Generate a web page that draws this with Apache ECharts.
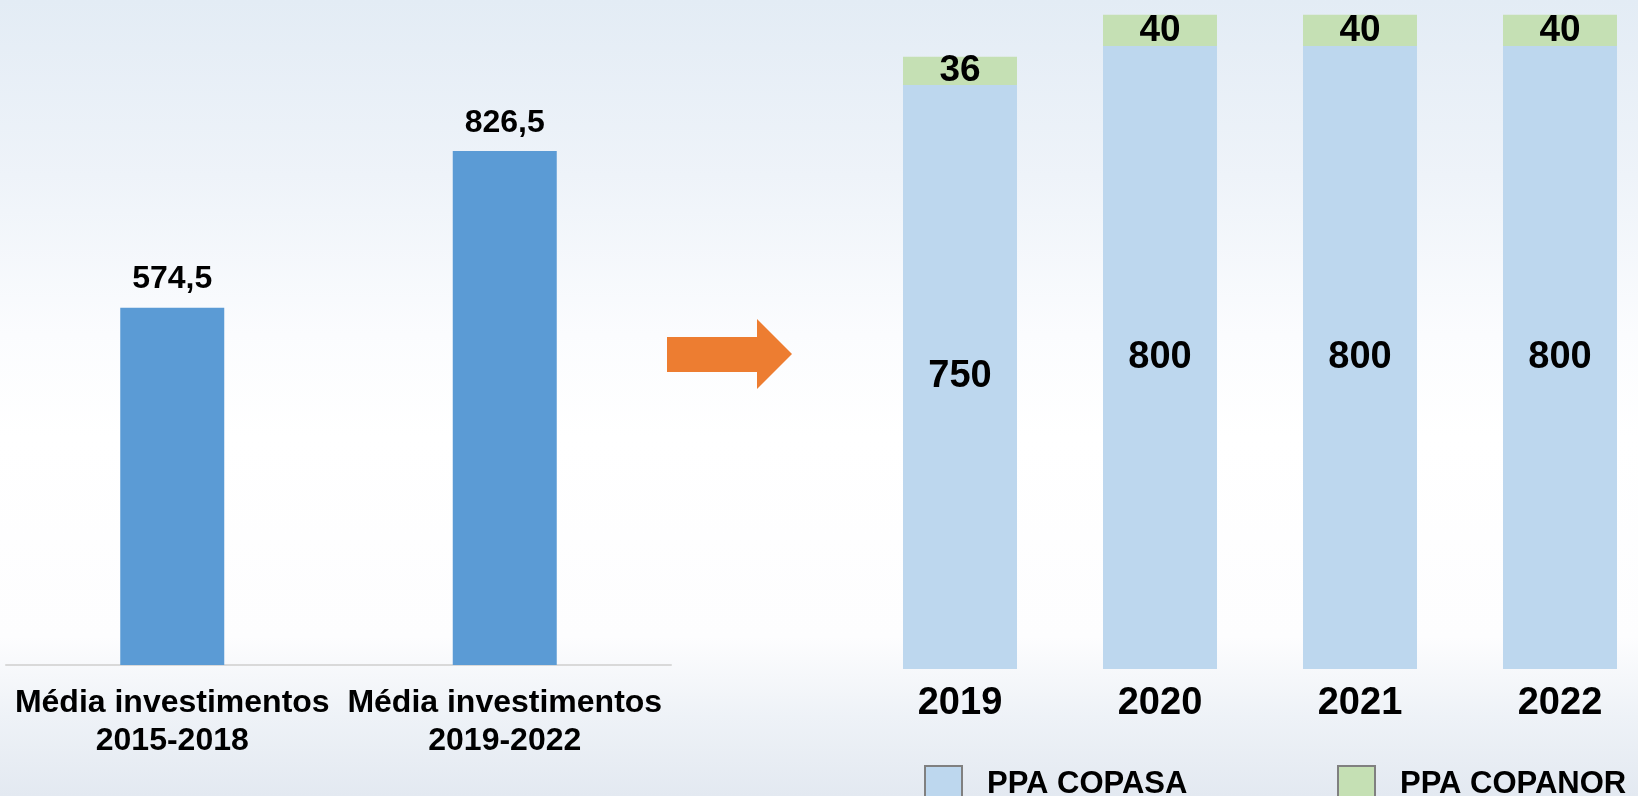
<html>
<head>
    <meta charset="utf-8">
    <script src="https://cdn.jsdelivr.net/npm/echarts@6/dist/echarts.min.js"></script>
    <title>investimentos</title>
    <style>
        html, body { margin: 0; padding: 0; width: 100%; height: 100%; }
        body {
            background: linear-gradient(to bottom, #e3ecf5 0%, #eef3f9 22%, #fbfcfe 42%, #ffffff 55%, #fdfdfe 80%, #eef2f7 90%, #e3e9f1 100%);
        }
    </style>
</head>
<body>
    <div id="main" style="width: 1638px; height: 796px;"></div>
    <script>
        // left chart: averages
        const periodCats = ['Média investimentos\n2015-2018', 'Média investimentos\n2019-2022'];
        const periodAvg = [574.5, 826.5];

        // right chart: PPA per year
        const years = ['2019', '2020', '2021', '2022'];
        const ppaCopasa = [750, 800, 800, 800];
        const ppaCopanor = [36, 40, 40, 40];

        const font = "'Liberation Sans', Arial, sans-serif";
        const myChart = echarts.init(document.getElementById('main'));

        const legendBase = (name, left) => ({
            data: [name],
            left: left,
            top: 760,
            icon: 'rect',
            itemWidth: 37,
            itemHeight: 37,
            itemStyle: { borderColor: '#808080', borderWidth: 2 },
            textStyle: {
                fontFamily: font, fontWeight: 'bold', fontSize: 31, color: '#000',
                padding: [0, 0, 0, 20]
            }
        });

        const option = {
            backgroundColor: 'transparent',
            animation: false,
            textStyle: { fontFamily: font },
            legend: [legendBase('PPA COPASA', 919), legendBase('PPA COPANOR', 1332)],
            grid: [
                { left: 6, width: 665, top: 43, bottom: 131, outerBoundsMode: 'none' },
                { left: 860, width: 800, top: 7, bottom: 127, outerBoundsMode: 'none' }
            ],
            xAxis: [
                {
                    gridIndex: 0, type: 'category', data: periodCats,
                    axisLine: { lineStyle: { color: '#d9d9d9', width: 2 } },
                    axisTick: { show: false },
                    axisLabel: {
                        color: '#000', fontWeight: 'bold', fontSize: 32, lineHeight: 38,
                        margin: 19, fontFamily: font, interval: 0
                    }
                },
                {
                    gridIndex: 1, type: 'category', data: years,
                    axisLine: { show: false },
                    axisTick: { show: false },
                    axisLabel: {
                        color: '#000', fontWeight: 'bold', fontSize: 38, lineHeight: 38,
                        margin: 16, fontFamily: font, interval: 0
                    }
                }
            ],
            yAxis: [
                { gridIndex: 0, type: 'value', min: 0, max: 1000, show: false, splitLine: { show: false } },
                { gridIndex: 1, type: 'value', min: 0, max: 850, show: false, splitLine: { show: false } }
            ],
            series: [
                {
                    name: 'Média', type: 'bar', xAxisIndex: 0, yAxisIndex: 0,
                    data: periodAvg, barWidth: 104,
                    itemStyle: { color: '#5b9bd5' },
                    label: {
                        show: true, position: 'top', distance: 12,
                        color: '#000', fontWeight: 'bold', fontSize: 32, fontFamily: font,
                        formatter: (p) => String(p.value).replace('.', ',')
                    }
                },
                {
                    name: 'PPA COPASA', type: 'bar', xAxisIndex: 1, yAxisIndex: 1,
                    stack: 'ppa', data: ppaCopasa, barWidth: 114,
                    itemStyle: { color: '#bdd7ee' },
                    label: {
                        show: true, position: 'inside',
                        color: '#000', fontWeight: 'bold', fontSize: 38, fontFamily: font
                    }
                },
                {
                    name: 'PPA COPANOR', type: 'bar', xAxisIndex: 1, yAxisIndex: 1,
                    stack: 'ppa', data: ppaCopanor, barWidth: 114,
                    itemStyle: { color: '#c5e0b4' },
                    label: {
                        show: true, position: 'inside',
                        color: '#000', fontWeight: 'bold', fontSize: 37, fontFamily: font
                    }
                }
            ],
            // orange arrow between the two charts
            graphic: [
                {
                    type: 'polygon',
                    shape: { points: [[667, 337], [757, 337], [757, 319], [792, 354], [757, 389], [757, 372], [667, 372]] },
                    style: { fill: '#ed7d31' }
                }
            ]
        };
        myChart.setOption(option);
    </script>
</body>
</html>
